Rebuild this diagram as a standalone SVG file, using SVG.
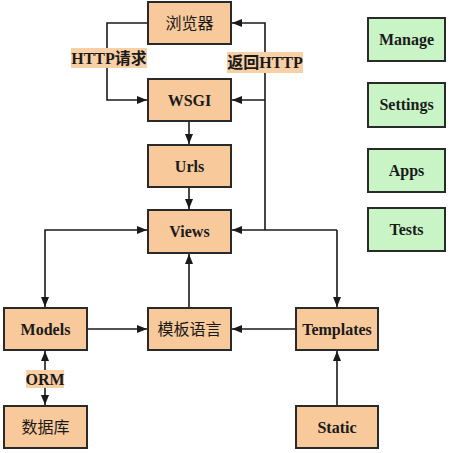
<svg xmlns="http://www.w3.org/2000/svg" width="450" height="453" viewBox="0 0 450 453">
<style>
.box{fill:#F8C99A;stroke:#2a2a2a;stroke-width:2}
.gbox{fill:#C9F4C6;stroke:#2a2a2a;stroke-width:2}
.t{font-family:"Liberation Serif","Times New Roman",serif;font-weight:bold;font-size:16px;fill:#1a1a1a;text-anchor:middle}
.c{font-family:"Liberation Serif","Noto Sans CJK SC",serif;font-size:16px;fill:#1a1a1a;text-anchor:middle}
.lbg{fill:#F9CFA6}
.ln{fill:none;stroke:#1a1a1a;stroke-width:1.6}
</style>
<defs>
<marker id="ah" viewBox="0 0 10 8" refX="10" refY="4" markerWidth="10" markerHeight="8" markerUnits="userSpaceOnUse" orient="auto-start-reverse">
<path d="M0,0 L10,4 L0,8 z" fill="#1a1a1a"/>
</marker>
</defs>
<rect width="450" height="453" fill="#ffffff"/>
<g id="connectors">
<path class="ln" d="M148,23 H107 V100 H147" marker-end="url(#ah)"/>
<path class="ln" d="M265,230 V23 H232" marker-end="url(#ah)"/>
<path class="ln" d="M265,100 H232" marker-end="url(#ah)"/>
<path class="ln" d="M337,230 H232" marker-end="url(#ah)"/>
<path class="ln" d="M337,230 V307" marker-end="url(#ah)"/>
<path class="ln" d="M189,121 V144" marker-end="url(#ah)"/>
<path class="ln" d="M189,187 V209" marker-end="url(#ah)"/>
<path class="ln" d="M147,230 H45 V307" marker-start="url(#ah)" marker-end="url(#ah)"/>
<path class="ln" d="M189,308 V254" marker-end="url(#ah)"/>
<path class="ln" d="M87,329 H147" marker-end="url(#ah)"/>
<path class="ln" d="M296,329 H232" marker-end="url(#ah)"/>
<path class="ln" d="M337,406 V351" marker-end="url(#ah)"/>
<path class="ln" d="M45,351 V405" marker-start="url(#ah)" marker-end="url(#ah)"/>
<rect class="lbg" x="71" y="48" width="76" height="20"/>
<text class="c" x="109" y="64" font-weight="bold">HTTP请求</text>
<rect class="lbg" x="227" y="52" width="76" height="21"/>
<text class="c" x="265" y="68" font-weight="bold">返回HTTP</text>
<rect class="lbg" x="26" y="370" width="38" height="18"/>
<text class="t" x="45" y="385">ORM</text>
</g>
<g id="browser"><rect class="box" x="148" y="2" width="83" height="42"/><text class="c" x="189.5" y="29">浏览器</text></g>
<g id="wsgi"><rect class="box" x="148" y="79" width="83" height="42"/><text class="t" x="189.5" y="106">WSGI</text></g>
<g id="urls"><rect class="box" x="148" y="145" width="83" height="42"/><text class="t" x="189.5" y="172">Urls</text></g>
<g id="views"><rect class="box" x="148" y="210" width="83" height="43"/><text class="t" x="189.5" y="237">Views</text></g>
<g id="models"><rect class="box" x="4" y="308" width="83" height="42"/><text class="t" x="45.5" y="335">Models</text></g>
<g id="template-lang"><rect class="box" x="148" y="308" width="83" height="42"/><text class="c" x="189.5" y="335">模板语言</text></g>
<g id="templates"><rect class="box" x="296" y="308" width="82" height="42"/><text class="t" x="337" y="335">Templates</text></g>
<g id="database"><rect class="box" x="4" y="406" width="83" height="42"/><text class="c" x="45.5" y="433">数据库</text></g>
<g id="static"><rect class="box" x="296" y="406" width="82" height="42"/><text class="t" x="337" y="433">Static</text></g>
<g id="manage"><rect class="gbox" x="368" y="18" width="77" height="43"/><text class="t" x="406.5" y="45">Manage</text></g>
<g id="settings"><rect class="gbox" x="368" y="83" width="77" height="44"/><text class="t" x="406.5" y="110">Settings</text></g>
<g id="apps"><rect class="gbox" x="368" y="149" width="77" height="43"/><text class="t" x="406.5" y="176">Apps</text></g>
<g id="tests"><rect class="gbox" x="368" y="208" width="77" height="43"/><text class="t" x="406.5" y="235">Tests</text></g>
</svg>
